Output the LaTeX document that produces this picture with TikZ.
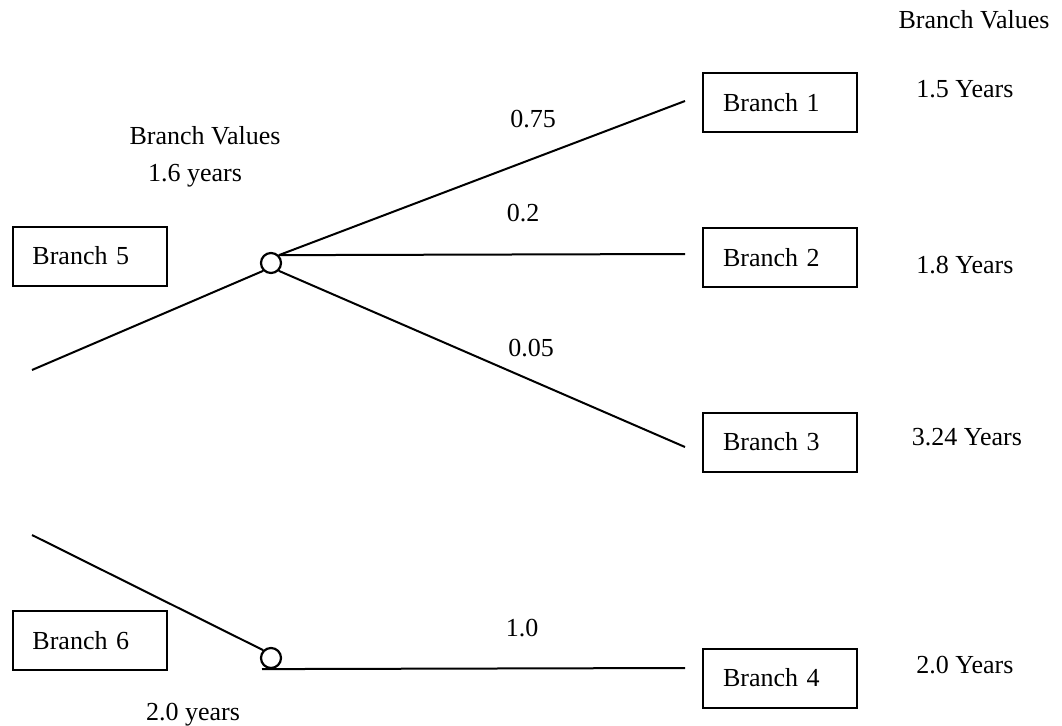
\documentclass[tikz,border=0pt]{standalone}
\usepackage{fontspec}
\setmainfont{Liberation Serif}
\begin{document}
\begin{tikzpicture}[x=0.5pt,y=-0.5pt,
  every node/.style={font=\fontsize{13}{15.6}\selectfont},
  branchbox/.style={draw,line width=1pt,text width=57pt,inner xsep=10pt,
    inner ysep=0pt,align=left,minimum height=29.5pt},
  chance/.style={draw,circle,line width=1.1pt,minimum size=10pt,inner sep=0pt},
  label/.style={anchor=base,inner sep=0pt},
  link/.style={line width=1pt}]
\useasboundingbox (0,0) rectangle (1062,725);

% outcome boxes
\node[branchbox] (b1) at (780,102.5) {Branch 1};
\node[branchbox] (b2) at (780,257.5) {Branch 2};
\node[branchbox] (b3) at (780,442) {Branch 3};
\node[branchbox] (b4) at (780,678) {Branch 4};
\node[branchbox] (b5) at (89.5,256) {Branch 5};
\node[branchbox] (b6) at (89.5,640.5) {Branch 6};

% chance nodes
\node[chance] (c1) at (271,263) {};
\node[chance] (c2) at (271,658) {};

% free ends of the branches
\coordinate (e1) at (685,101);
\coordinate (e2) at (685,254);
\coordinate (e3) at (685,447);
\coordinate (e4) at (685,668);
\coordinate (in1) at (32,370);
\coordinate (in2) at (32,535);

% branches
\draw[link] (c1.45) -- (e1);
\draw[link] (c1.45) -- (e2);
\draw[link] (c1.-45) -- (e3);
\draw[link] (in1) -- (c1.-135);
\draw[link] (in2) -- (c2.135);
\draw[link] ([xshift=-4.5pt]c2.south) -- (e4);

% probabilities
\node[label] (p1) at (533,127) {0.75};
\node[label] (p2) at (523,221) {0.2};
\node[label] (p3) at (531,356) {0.05};
\node[label] (p4) at (522,636) {1.0};

% values
\node[label] (vh1) at (974,28) {Branch Values};
\node[label] (v1) at (965,97) {1.5 Years};
\node[label] (v2) at (965,273) {1.8 Years};
\node[label] (v3) at (967,445) {3.24 Years};
\node[label] (v4) at (965,673) {2.0 Years};
\node[label] (vh2) at (205,144) {Branch Values};
\node[label] (v5) at (195,181) {1.6 years};
\node[label] (v6) at (193,720) {2.0 years};
\end{tikzpicture}
\end{document}
